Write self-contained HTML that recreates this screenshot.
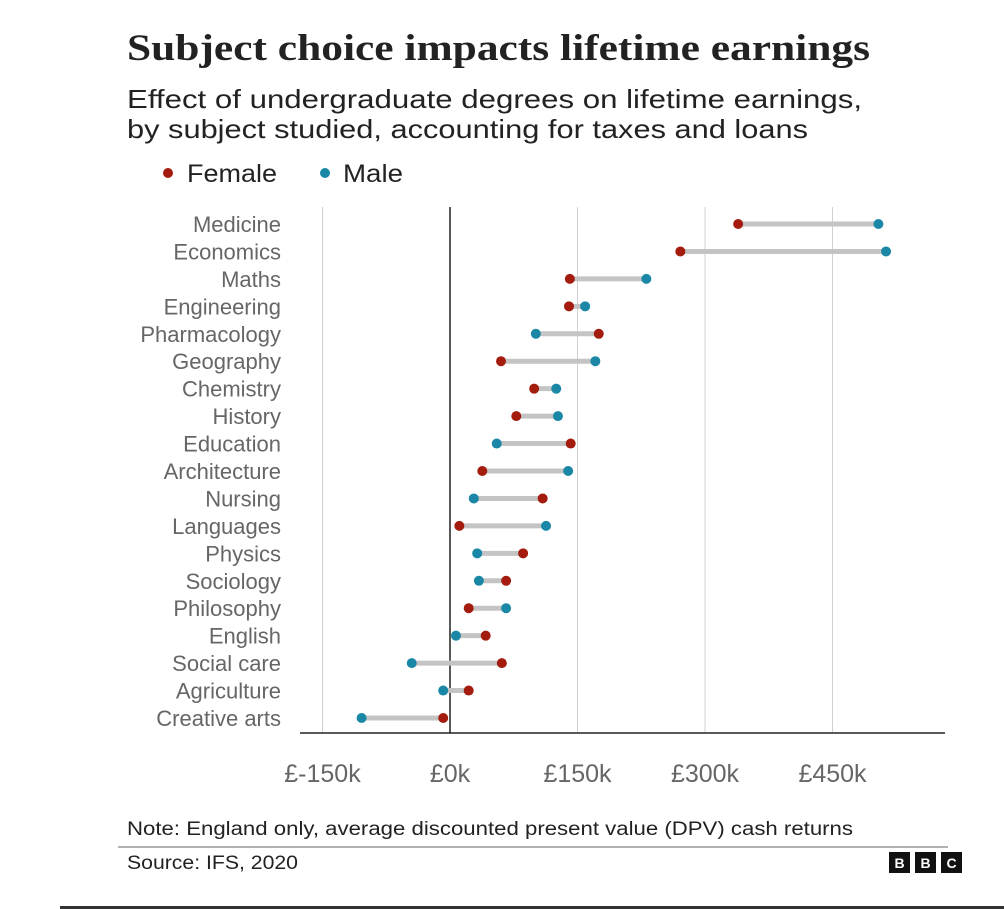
<!DOCTYPE html>
<html><head><meta charset="utf-8"><style>
body{margin:0;background:#fff;width:1004px;height:909px;overflow:hidden;font-family:"Liberation Sans",sans-serif}
svg{display:block}
</style></head><body>
<svg width="1004" height="909" xmlns="http://www.w3.org/2000/svg">
<text x="127" y="60" font-family="Liberation Serif,serif" font-weight="bold" font-size="37" fill="#222" textLength="743" lengthAdjust="spacingAndGlyphs">Subject choice impacts lifetime earnings</text>
<text x="127" y="108" font-size="26" fill="#222" textLength="735" lengthAdjust="spacingAndGlyphs">Effect of undergraduate degrees on lifetime earnings,</text>
<text x="127" y="138" font-size="26" fill="#222" textLength="681" lengthAdjust="spacingAndGlyphs">by subject studied, accounting for taxes and loans</text>
<g>
<circle cx="168" cy="173" r="5" fill="#a31c0e"/>
<text x="187" y="182" font-size="25" fill="#222" textLength="90" lengthAdjust="spacingAndGlyphs">Female</text>
<circle cx="325" cy="173" r="5" fill="#1b87a6"/>
<text x="343" y="182" font-size="25" fill="#222" textLength="60" lengthAdjust="spacingAndGlyphs">Male</text>
</g>
<g id="plot"></g>
<text x="127" y="835" font-size="19" fill="#222" textLength="726" lengthAdjust="spacingAndGlyphs">Note: England only, average discounted present value (DPV) cash returns</text>
<line x1="118" y1="847" x2="948" y2="847" stroke="#999" stroke-width="1.5"/>
<text x="127" y="869" font-size="19" fill="#222" textLength="171" lengthAdjust="spacingAndGlyphs">Source: IFS, 2020</text>
<g>
<rect x="889" y="852" width="21" height="21" fill="#111"/><text x="899.5" y="868" font-size="14" font-weight="bold" fill="#fff" text-anchor="middle">B</text>
<rect x="915" y="852" width="21" height="21" fill="#111"/><text x="925.5" y="868" font-size="14" font-weight="bold" fill="#fff" text-anchor="middle">B</text>
<rect x="941" y="852" width="21" height="21" fill="#111"/><text x="951.5" y="868" font-size="14" font-weight="bold" fill="#fff" text-anchor="middle">C</text>
</g>
<rect x="60" y="906" width="944" height="3" fill="#333"/>
</svg>
<script>
const categories=["Medicine","Economics","Maths","Engineering","Pharmacology","Geography","Chemistry","History","Education","Architecture","Nursing","Languages","Physics","Sociology","Philosophy","English","Social care","Agriculture","Creative arts"];
const femaleValues=[339,271,141,140,175,60,99,78,142,38,109,11,86,66,22,42,61,22,-8];
const maleValues=[504,513,231,159,101,171,125,127,55,139,28,113,32,34,66,7,-45,-8,-104];
const tickValues=[-150,0,150,300,450];
const tickLabels=["£-150k","£0k","£150k","£300k","£450k"];
const NS="http://www.w3.org/2000/svg";
const g=document.getElementById('plot');
const x=v=>450+v*0.85;
const y=i=>224+i*(718-224)/(categories.length-1);
function mk(t,a){const e=document.createElementNS(NS,t);for(const k in a)e.setAttribute(k,a[k]);g.appendChild(e);return e;}
tickValues.forEach((v,i)=>{
 const l=mk('line',{x1:x(v),x2:x(v),y1:207,y2:733,stroke:v===0?'#222':'#d0d0d0','stroke-width':v===0?1.5:1});
 
 
 const t=mk('text',{x:x(v),y:782,'font-size':25,fill:'#666','text-anchor':'middle'});
 t.textContent=tickLabels[i];
 
 
});
const ax=mk('line',{x1:300,x2:945,y1:733,y2:733,stroke:'#222','stroke-width':1.5});


categories.forEach((c,i)=>{
 const t=mk('text',{x:281,y:y(i)+8,'font-size':22,fill:'#666','text-anchor':'end'});
 t.textContent=c;
 
 
 const l=mk('line',{x1:x(femaleValues[i]),x2:x(maleValues[i]),y1:y(i),y2:y(i),stroke:'#c4c4c4','stroke-width':5});
 
 
 const f=mk('circle',{cx:x(femaleValues[i]),cy:y(i),r:5,fill:'#a31c0e'});
 
 
 const m=mk('circle',{cx:x(maleValues[i]),cy:y(i),r:5,fill:'#1b87a6'});
 
 
});
</script>
</body></html>
